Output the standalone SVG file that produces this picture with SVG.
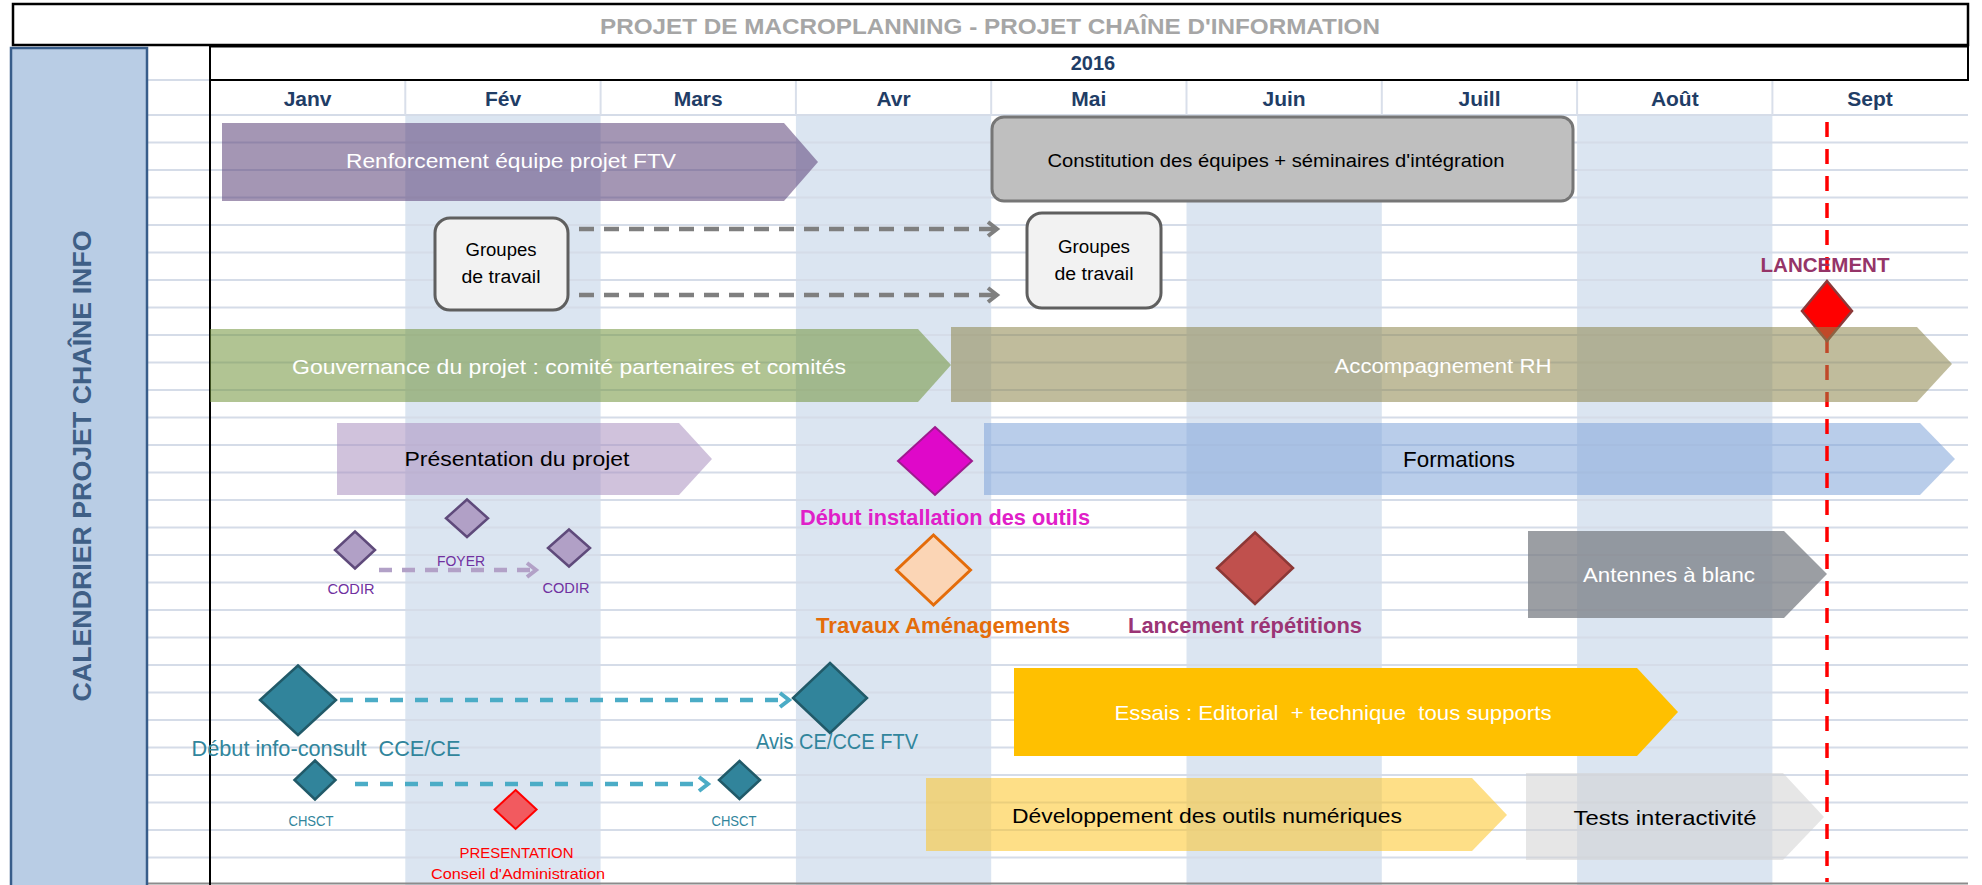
<svg xmlns="http://www.w3.org/2000/svg" width="1982" height="885" viewBox="0 0 1982 885">
<style>
text{font-family:"Liberation Sans",Arial,sans-serif;text-anchor:middle;dominant-baseline:central}
.b{font-weight:bold}
.mon{font-weight:bold;font-size:21px;fill:#1f3d66}
.grid{stroke:#d5dce8;stroke-width:2}
.sep{stroke:#d9dfea;stroke-width:2}
.shade{fill:#dbe5f1}
.wt{fill:#fff}
.bk{fill:#000}
.codir{fill:#b1a0c6;stroke:#5f4a7b;stroke-width:2.5}
.teal{fill:#31849b;stroke:#215a69;stroke-width:2.5}
.tealt{fill:#31859c}
.purt{fill:#7030a0}
.redt{fill:#ff0000}
.gbox{fill:#f2f2f2;stroke:#5f5f5f;stroke-width:3}
.dg{fill:none;stroke:#7f7f7f;stroke-width:4.5;stroke-dasharray:15 10}
.dp{fill:none;stroke:#b2a1c7;stroke-width:4.5;stroke-dasharray:13 10}
.dt{fill:none;stroke:#4bacc6;stroke-width:4.5;stroke-dasharray:13 12}
</style>
<defs>
<marker id="arG" markerUnits="userSpaceOnUse" viewBox="0 0 20 18" markerWidth="20" markerHeight="18" refX="12" refY="9" orient="auto"><path d="M3,2 L12,9 L3,16" fill="none" stroke="#7f7f7f" stroke-width="4"/></marker>
<marker id="arP" markerUnits="userSpaceOnUse" viewBox="0 0 20 18" markerWidth="20" markerHeight="18" refX="12" refY="9" orient="auto"><path d="M3,2 L12,9 L3,16" fill="none" stroke="#b2a1c7" stroke-width="4"/></marker>
<marker id="arT" markerUnits="userSpaceOnUse" viewBox="0 0 20 18" markerWidth="20" markerHeight="18" refX="12" refY="9" orient="auto"><path d="M3,2 L12,9 L3,16" fill="none" stroke="#4bacc6" stroke-width="4"/></marker>
</defs>
<rect x="0" y="0" width="1982" height="885" fill="#fff"/>

<g id="background">
<rect class="shade" x="405.3" y="115" width="195.3" height="770"/>
<rect class="shade" x="795.9" y="115" width="195.3" height="770"/>
<rect class="shade" x="1186.5" y="115" width="195.3" height="770"/>
<rect class="shade" x="1577.1" y="115" width="195.3" height="770"/>
<line class="grid" x1="147" y1="80" x2="210" y2="80"/>
<line class="grid" x1="147" y1="115" x2="1968" y2="115"/>
<line class="grid" x1="147" y1="142.5" x2="1968" y2="142.5"/>
<line class="grid" x1="147" y1="170" x2="1968" y2="170"/>
<line class="grid" x1="147" y1="197.5" x2="1968" y2="197.5"/>
<line class="grid" x1="147" y1="225" x2="1968" y2="225"/>
<line class="grid" x1="147" y1="252.5" x2="1968" y2="252.5"/>
<line class="grid" x1="147" y1="280" x2="1968" y2="280"/>
<line class="grid" x1="147" y1="307.5" x2="1968" y2="307.5"/>
<line class="grid" x1="147" y1="335" x2="1968" y2="335"/>
<line class="grid" x1="147" y1="362.5" x2="1968" y2="362.5"/>
<line class="grid" x1="147" y1="390" x2="1968" y2="390"/>
<line class="grid" x1="147" y1="417.5" x2="1968" y2="417.5"/>
<line class="grid" x1="147" y1="445" x2="1968" y2="445"/>
<line class="grid" x1="147" y1="472.5" x2="1968" y2="472.5"/>
<line class="grid" x1="147" y1="500" x2="1968" y2="500"/>
<line class="grid" x1="147" y1="527.5" x2="1968" y2="527.5"/>
<line class="grid" x1="147" y1="555" x2="1968" y2="555"/>
<line class="grid" x1="147" y1="582.5" x2="1968" y2="582.5"/>
<line class="grid" x1="147" y1="610" x2="1968" y2="610"/>
<line class="grid" x1="147" y1="637.5" x2="1968" y2="637.5"/>
<line class="grid" x1="147" y1="665" x2="1968" y2="665"/>
<line class="grid" x1="147" y1="692.5" x2="1968" y2="692.5"/>
<line class="grid" x1="147" y1="720" x2="1968" y2="720"/>
<line class="grid" x1="147" y1="747.5" x2="1968" y2="747.5"/>
<line class="grid" x1="147" y1="775" x2="1968" y2="775"/>
<line class="grid" x1="147" y1="802.5" x2="1968" y2="802.5"/>
<line class="grid" x1="147" y1="830" x2="1968" y2="830"/>
<line class="grid" x1="147" y1="857.5" x2="1968" y2="857.5"/>
<line x1="147" y1="883.5" x2="1968" y2="883.5" stroke="#8c8c8c" stroke-width="2"/>
<line class="sep" x1="405.3" y1="80" x2="405.3" y2="115"/>
<line class="sep" x1="600.6" y1="80" x2="600.6" y2="115"/>
<line class="sep" x1="795.9" y1="80" x2="795.9" y2="115"/>
<line class="sep" x1="991.2" y1="80" x2="991.2" y2="115"/>
<line class="sep" x1="1186.5" y1="80" x2="1186.5" y2="115"/>
<line class="sep" x1="1381.8" y1="80" x2="1381.8" y2="115"/>
<line class="sep" x1="1577.1" y1="80" x2="1577.1" y2="115"/>
<line class="sep" x1="1772.4" y1="80" x2="1772.4" y2="115"/>
</g>

<g id="header">
<rect x="13" y="4" width="1955" height="41" fill="#fff" stroke="#000" stroke-width="2.5"/>
<text class="b" x="990" y="26" font-size="22" fill="#a6a6a6" textLength="780" lengthAdjust="spacingAndGlyphs">PROJET DE MACROPLANNING - PROJET CHAÎNE D'INFORMATION</text>
<rect x="210" y="46.5" width="1758" height="33.5" fill="#fff" stroke="#000" stroke-width="2"/>
<text class="b" x="1093" y="63" font-size="20" fill="#1f3d66">2016</text>
<line x1="210" y1="46" x2="210" y2="885" stroke="#000" stroke-width="2"/>
<text class="mon" x="307.6" y="98">Janv</text>
<text class="mon" x="503" y="98">Fév</text>
<text class="mon" x="698.2" y="98">Mars</text>
<text class="mon" x="893.5" y="98">Avr</text>
<text class="mon" x="1088.8" y="98">Mai</text>
<text class="mon" x="1284.1" y="98">Juin</text>
<text class="mon" x="1479.5" y="98">Juill</text>
<text class="mon" x="1674.8" y="98">Août</text>
<text class="mon" x="1870" y="98">Sept</text>
</g>

<g id="side-title">
<rect x="11" y="48" width="136" height="845" fill="#b9cde5" stroke="#385d8a" stroke-width="2.5"/>
<text class="b" transform="translate(82,466) rotate(-90)" x="0" y="0" font-size="26" fill="#3f5f86" textLength="471" lengthAdjust="spacingAndGlyphs">CALENDRIER PROJET CHAÎNE INFO</text>
</g>

<g id="renforcement">
<polygon points="222,123 784,123 818,162 784,201 222,201" fill="#5a4077" fill-opacity="0.55"/>
<text class="wt" x="511" y="161" font-size="20" textLength="330" lengthAdjust="spacingAndGlyphs">Renforcement équipe projet FTV</text>
</g>

<g id="constitution">
<rect x="992" y="117" width="581" height="84" rx="12" fill="#bfbfbf" stroke="#767676" stroke-width="3"/>
<text class="bk" x="1276" y="161" font-size="18" textLength="457" lengthAdjust="spacingAndGlyphs">Constitution des équipes + séminaires d'intégration</text>
</g>

<g id="groupes1">
<rect class="gbox" x="435" y="218" width="133" height="92" rx="15"/>
<text class="bk" x="501" y="250" font-size="18" textLength="71" lengthAdjust="spacingAndGlyphs">Groupes</text>
<text class="bk" x="501" y="277" font-size="18" textLength="79" lengthAdjust="spacingAndGlyphs">de travail</text>
</g>

<g id="groupes2">
<rect class="gbox" x="1027" y="213" width="134" height="95" rx="15"/>
<text class="bk" x="1094" y="247" font-size="18" textLength="72" lengthAdjust="spacingAndGlyphs">Groupes</text>
<text class="bk" x="1094" y="274" font-size="18" textLength="79" lengthAdjust="spacingAndGlyphs">de travail</text>
</g>

<g id="gouvernance">
<polygon points="210,329 918,329 951,365 918,402 210,402" fill="#71943a" fill-opacity="0.55"/>
<text class="wt" x="569" y="366" font-size="21" textLength="554" lengthAdjust="spacingAndGlyphs">Gouvernance du projet : comité partenaires et comités</text>
</g>

<g id="presentation-projet">
<polygon points="337,423 679,423 712,459 679,495 337,495" fill="#a990bf" fill-opacity="0.55"/>
<text class="bk" x="517" y="458" font-size="21" textLength="225" lengthAdjust="spacingAndGlyphs">Présentation du projet</text>
</g>

<g id="formations">
<polygon points="984,423 1920,423 1955,459 1920,495 984,495" fill="#80a4d9" fill-opacity="0.55"/>
<text class="bk" x="1459" y="459" font-size="22" textLength="112" lengthAdjust="spacingAndGlyphs">Formations</text>
</g>

<g id="antennes">
<polygon points="1528,531 1784,531 1827,574 1784,618 1528,618" fill="#7a7e84" fill-opacity="0.75"/>
<text class="wt" x="1669" y="574" font-size="21" textLength="172" lengthAdjust="spacingAndGlyphs">Antennes à blanc</text>
</g>

<g id="essais">
<polygon points="1014,668 1637,668 1678,712 1637,756 1014,756" fill="#ffc000"/>
<text class="wt" x="1333" y="712" font-size="21" textLength="437" lengthAdjust="spacingAndGlyphs" xml:space="preserve">Essais : Editorial  + technique  tous supports</text>
</g>

<g id="developpement">
<polygon points="926,778 1472,778 1507,815 1472,851 926,851" fill="#fdc525" fill-opacity="0.55"/>
<text class="bk" x="1207" y="815" font-size="21" textLength="390" lengthAdjust="spacingAndGlyphs">Développement des outils numériques</text>
</g>

<g id="tests">
<polygon points="1526,773 1783,773 1824,817 1783,860 1526,860" fill="#d1d1d1" fill-opacity="0.55"/>
<text class="bk" x="1665" y="817" font-size="21" textLength="183" lengthAdjust="spacingAndGlyphs">Tests interactivité</text>
</g>

<g id="debut-installation">
<polygon points="935,427 972,461 935,495 898,461" fill="#df08c9" stroke="#9e1b8f" stroke-width="2"/>
<text class="b" x="945" y="517" font-size="22" fill="#e020c8" textLength="290" lengthAdjust="spacingAndGlyphs">Début installation des outils</text>
</g>

<g id="travaux">
<polygon points="933.5,535 970.5,570 933.5,605 896.5,570" fill="#fbd5b5" stroke="#e46c0a" stroke-width="3"/>
<text class="b" x="943" y="625" font-size="22" fill="#e46c0a" textLength="254" lengthAdjust="spacingAndGlyphs">Travaux Aménagements</text>
</g>

<g id="lancement-repetitions">
<polygon points="1255,532.5 1293,568 1255,604 1217,568" fill="#c0504d" stroke="#8c3836" stroke-width="2.5"/>
<text class="b" x="1245" y="625" font-size="22" fill="#9b3575" textLength="234" lengthAdjust="spacingAndGlyphs">Lancement répétitions</text>
</g>

<g id="codir1">
<polygon class="codir" points="355,531.5 375,550 355,568.5 335,550"/>
<text class="purt" x="351" y="589" font-size="14" textLength="47" lengthAdjust="spacingAndGlyphs">CODIR</text>
</g>
<g id="foyer">
<polygon class="codir" points="467,499.5 488,518.3 467,537 446,518.3"/>
<text class="purt" x="461" y="561" font-size="14" textLength="48" lengthAdjust="spacingAndGlyphs">FOYER</text>
</g>
<g id="codir2">
<polygon class="codir" points="569,529.5 590,548 569,566.5 548,548"/>
<text class="purt" x="566" y="588" font-size="14" textLength="47" lengthAdjust="spacingAndGlyphs">CODIR</text>
</g>

<g id="info-consult">
<polygon class="teal" points="298,665.5 336,700 298,735 260,700"/>
<text class="tealt" x="326" y="748" font-size="22" textLength="269" lengthAdjust="spacingAndGlyphs" xml:space="preserve">Début info-consult  CCE/CE</text>
</g>
<g id="avis">
<polygon class="teal" points="830,663 867,698 830,733 793,698"/>
<text class="tealt" x="837" y="741" font-size="22" textLength="162" lengthAdjust="spacingAndGlyphs">Avis CE/CCE FTV</text>
</g>
<g id="chsct1">
<polygon class="teal" points="315,760.5 335.5,780 315,799.5 294.5,780"/>
<text class="tealt" x="311" y="821" font-size="14" textLength="45" lengthAdjust="spacingAndGlyphs">CHSCT</text>
</g>
<g id="chsct2">
<polygon class="teal" points="739.5,761 760,780 739.5,799 719,780"/>
<text class="tealt" x="734" y="821" font-size="14" textLength="45" lengthAdjust="spacingAndGlyphs">CHSCT</text>
</g>
<g id="presentation-ca">
<polygon points="515.6,790 536.6,809.5 515.6,829 494.6,809.5" fill="#f25a5f" stroke="#ff0000" stroke-width="2"/>
<text class="redt" x="516.5" y="852" font-size="15" textLength="114" lengthAdjust="spacingAndGlyphs">PRESENTATION</text>
<text class="redt" x="518" y="874" font-size="14" textLength="174" lengthAdjust="spacingAndGlyphs">Conseil d'Administration</text>
</g>

<g id="connectors">
<line class="dg" x1="579" y1="229" x2="997" y2="229" marker-end="url(#arG)"/>
<line class="dg" x1="579" y1="295" x2="997" y2="295" marker-end="url(#arG)"/>
<line class="dp" x1="379" y1="570" x2="536" y2="570" marker-end="url(#arP)"/>
<line class="dt" x1="340" y1="700" x2="789" y2="700" marker-end="url(#arT)"/>
<line class="dt" x1="355" y1="784" x2="708" y2="784" marker-end="url(#arT)"/>
</g>

<g id="lancement">
<line x1="1827" y1="122" x2="1827" y2="882" stroke="#ff0000" stroke-width="3.5" stroke-dasharray="15 12"/>
<polygon points="1827,281 1852,311 1827,341 1802,311" fill="#ff0000" stroke="#8c3a3a" stroke-width="2.5"/>
<text class="b" x="1825" y="264" font-size="21" fill="#953568" textLength="129" lengthAdjust="spacingAndGlyphs">LANCEMENT</text>
</g>

<g id="accompagnement">
<polygon points="951,327 1917,327 1952,364 1917,402 951,402" fill="#8c854b" fill-opacity="0.55"/>
<text class="wt" x="1443" y="365" font-size="21" textLength="217" lengthAdjust="spacingAndGlyphs">Accompagnement RH</text>
</g>
</svg>
